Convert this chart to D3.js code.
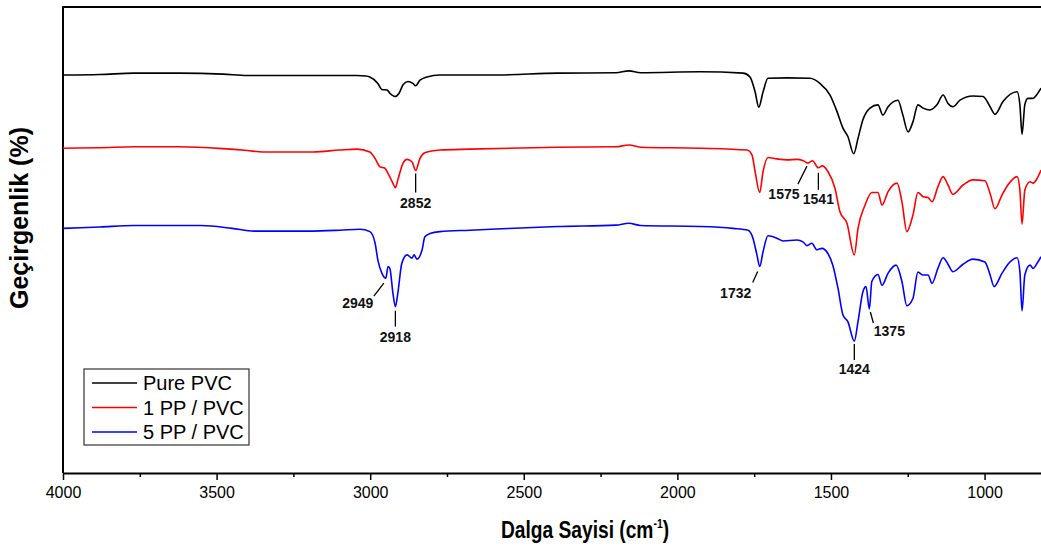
<!DOCTYPE html>
<html lang="tr">
<head>
<meta charset="UTF-8">
<title>FTIR - PVC / PP</title>
<script src="https://d3js.org/d3.v7.min.js"></script>
<style>
  body { margin: 0; background: #fff; font-family: "Liberation Sans", Arial, sans-serif; }
  .spectrum { fill: none; stroke-width: 1.6px; stroke-linejoin: round; }
  .frame { stroke: #000; stroke-width: 2px; fill: none; }
  .leader { stroke: #000; stroke-width: 1.3px; }
  .peak-label { font-size: 14px; font-weight: bold; fill: #111; text-anchor: middle; }
  .axis text { font-size: 16px; fill: #000; font-family: "Liberation Sans", Arial, sans-serif; }
  .axis line { stroke: #000; stroke-width: 1.5px; }
  .axis path { stroke: #000; stroke-width: 2px; }
</style>
</head>
<body>
<svg id="chart" width="1041" height="547"></svg>
<script>
// wavenumber (cm-1) / transmittance pairs, spectra stacked with an offset
const purePVC = [
  [4000, 85.4], [3880, 85.5], [3769, 85.8], [3622, 85.8], [3479, 85.6], [3400, 85.3], [3200, 85.3],
  [3043, 85.3], [3014, 85.2], [3001, 85.0], [2975, 83.6], [2962, 82.3], [2945, 82.2], [2936, 81.5],
  [2919, 80.8], [2906, 81.5], [2893, 83.3], [2877, 84.0], [2861, 83.6], [2852, 83.1], [2838, 84.3],
  [2815, 85.0], [2773, 85.4], [2607, 85.4], [2389, 85.8], [2200, 85.9], [2158, 86.3], [2120, 85.9],
  [1926, 86.1], [1786, 85.8], [1764, 85.0], [1747, 81.8], [1735, 78.5], [1721, 81.8], [1705, 84.7],
  [1643, 84.8], [1568, 84.7], [1536, 83.6], [1503, 81.1], [1480, 77.5], [1461, 74.0], [1445, 72.2],
  [1426, 68.5], [1412, 71.8], [1396, 75.8], [1373, 78.3], [1347, 79.0], [1331, 76.8], [1314, 78.6],
  [1282, 80.0], [1266, 76.8], [1249, 73.2], [1233, 75.4], [1217, 79.0], [1200, 78.3], [1178, 77.9],
  [1155, 79.0], [1135, 81.1], [1119, 79.3], [1103, 78.6], [1080, 80.0], [1038, 80.9], [1005, 80.8],
  [982, 78.6], [966, 77.0], [940, 79.7], [894, 81.8], [885, 79.0], [878, 72.7], [869, 79.0],
  [859, 80.4], [842, 80.4], [829, 81.3], [816, 82.6]
];

const pp1PVC = [
  [4000, 69.7], [3880, 69.8], [3769, 70.0], [3622, 70.0], [3480, 69.6], [3400, 69.2], [3350, 68.9],
  [3186, 68.9], [3100, 69.3], [3043, 69.5], [3001, 68.9], [2984, 67.5], [2968, 65.7], [2952, 65.4],
  [2942, 64.3], [2926, 62.2], [2918, 61.2], [2910, 62.9], [2893, 66.5], [2880, 67.3], [2864, 66.8],
  [2852, 64.9], [2838, 67.5], [2822, 68.7], [2773, 69.3], [2675, 69.5], [2389, 69.9], [2200, 70.0],
  [2158, 70.4], [2120, 69.9], [1926, 69.7], [1773, 69.3], [1757, 68.2], [1747, 64.7], [1732, 60.2],
  [1721, 64.7], [1705, 67.7], [1676, 67.4], [1643, 67.2], [1611, 67.3], [1590, 67.0], [1575, 66.5],
  [1560, 67.0], [1541, 65.5], [1529, 65.9], [1510, 64.7], [1487, 61.1], [1471, 56.1], [1448, 53.6],
  [1424, 46.8], [1412, 52.5], [1389, 57.5], [1367, 60.2], [1347, 60.2], [1334, 57.5], [1314, 60.4],
  [1285, 62.2], [1269, 58.2], [1253, 51.8], [1233, 55.4], [1217, 60.2], [1200, 59.3], [1184, 59.1],
  [1171, 58.2], [1152, 61.4], [1135, 63.6], [1119, 61.8], [1103, 59.8], [1070, 61.8], [1038, 62.9],
  [999, 62.7], [982, 60.0], [966, 56.7], [943, 59.7], [924, 61.8], [894, 63.6], [885, 60.7],
  [878, 53.4], [869, 60.7], [852, 62.5], [842, 62.2], [829, 63.2], [816, 65.0]
];

const pp5PVC = [
  [4000, 52.5], [3880, 52.8], [3769, 53.1], [3551, 53.1], [3450, 52.5], [3378, 51.9], [3200, 51.9],
  [3098, 52.1], [3033, 52.3], [3001, 51.8], [2984, 49.3], [2975, 45.7], [2962, 42.9], [2949, 41.8],
  [2942, 44.3], [2936, 43.9], [2926, 38.6], [2918, 35.7], [2910, 38.6], [2897, 45.0], [2880, 46.8],
  [2864, 46.1], [2857, 46.8], [2848, 45.9], [2831, 47.9], [2822, 50.7], [2805, 51.4], [2773, 51.8],
  [2675, 52.1], [2607, 52.3], [2389, 52.9], [2200, 53.2], [2158, 53.6], [2120, 53.1], [1926, 52.9],
  [1819, 52.5], [1770, 52.1], [1754, 50.4], [1741, 46.8], [1732, 44.3], [1721, 47.5], [1705, 50.9],
  [1676, 50.4], [1656, 49.8], [1611, 50.0], [1591, 49.6], [1578, 48.8], [1562, 49.3], [1546, 47.9],
  [1529, 48.2], [1510, 47.1], [1494, 44.6], [1477, 39.6], [1461, 33.9], [1445, 32.5], [1424, 28.3],
  [1412, 32.5], [1396, 38.9], [1386, 40.0], [1375, 35.2], [1367, 41.1], [1347, 42.6], [1334, 40.3],
  [1314, 42.9], [1288, 44.6], [1269, 41.1], [1253, 35.9], [1233, 37.5], [1217, 43.1], [1200, 42.5],
  [1184, 42.5], [1171, 40.7], [1152, 43.9], [1135, 46.2], [1119, 44.8], [1103, 43.2], [1070, 44.8],
  [1038, 45.9], [999, 45.3], [982, 42.5], [969, 40.0], [943, 42.9], [917, 45.3], [894, 46.2],
  [885, 43.2], [878, 34.8], [869, 42.5], [852, 44.6], [842, 43.9], [829, 45.0], [816, 46.4]
];

const seriesNames = ["Pure PVC", "1 PP / PVC", "5 PP / PVC"];
const seriesColors = ["#000000", "#ff0000", "#0000ff"];
const seriesData = [purePVC, pp1PVC, pp5PVC];

const majorTicks = [4000, 3500, 3000, 2500, 2000, 1500, 1000];
const minorTicks = [3750, 3250, 2750, 2250, 1750, 1250];

// labelled bands: which spectrum and which wavenumber
const peakSeries = [1, 1, 1, 2, 2, 2, 2, 2];
const peakWn = [2852, 1575, 1541, 2949, 2918, 1732, 1424, 1375];

// leader line + label placement relative to the band minimum (px):
// [x1, y1, x2, y2, labelX, labelY]
const peakLayout = [
  [0, 3, 0, 22, 0, 37],
  [-1, 3, -10, 21, -24, 36],
  [0, 5, 0, 22, 0, 36],
  [-2, 5, -12, 18, -28, 30],
  [0, 4, 0, 20, 0, 35],
  [-2, 5, -7, 16, -24, 31],
  [0, 3, 0, 19, 0, 33],
  [1, 3, 4, 14, 20, 27]
];

const svg = d3.select("#chart");
const plot = { left: 63, top: 7, bottom: 473, right: 1046 };

const x = d3.scaleLinear().domain([4000, 800]).range([plot.left, plot.right]);
const y = d3.scaleLinear().domain([0, 100]).range([plot.bottom, plot.top]);

// minor ticks first so the major axis draws on top
svg.append("g")
  .attr("class", "axis")
  .attr("transform", "translate(0," + plot.bottom + ")")
  .call(d3.axisBottom(x).tickValues(minorTicks).tickSize(4).tickSizeOuter(0).tickFormat(""))
  .call(g => g.select(".domain").remove());

svg.append("g")
  .attr("class", "axis")
  .attr("transform", "translate(0," + plot.bottom + ")")
  .call(d3.axisBottom(x).tickValues(majorTicks).tickSize(7).tickSizeOuter(0).tickPadding(7).tickFormat(d3.format("d")));

// left and top border
svg.append("path")
  .attr("class", "frame")
  .attr("d", "M" + plot.left + "," + plot.bottom + "V" + plot.top + "H" + plot.right);

const line = d3.line()
  .x(d => x(d[0]))
  .y(d => y(d[1]))
  .curve(d3.curveMonotoneX);

svg.selectAll(".spectrum")
  .data(seriesData)
  .enter().append("path")
  .attr("class", "spectrum")
  .attr("stroke", (d, i) => seriesColors[i])
  .attr("d", line);

// band annotations
peakWn.forEach(function(wn, i) {
  const s = seriesData[peakSeries[i]];
  const pt = s.find(d => d[0] === wn);
  const px = x(wn), py = y(pt[1]);
  const L = peakLayout[i];
  svg.append("line")
    .attr("class", "leader")
    .attr("x1", px + L[0]).attr("y1", py + L[1])
    .attr("x2", px + L[2]).attr("y2", py + L[3]);
  svg.append("text")
    .attr("class", "peak-label")
    .attr("x", px + L[4]).attr("y", py + L[5])
    .text(wn);
});

// legend
const legend = svg.append("g").attr("transform", "translate(84,369)");
legend.append("rect")
  .attr("width", 165).attr("height", 76)
  .attr("fill", "#fff").attr("stroke", "#333").attr("stroke-width", 1.2);
seriesNames.forEach(function(name, i) {
  const row = legend.append("g").attr("transform", "translate(0," + (14 + i * 24.5) + ")");
  row.append("line")
    .attr("x1", 8).attr("x2", 53)
    .attr("stroke", seriesColors[i]).attr("stroke-width", 1.5);
  row.append("text")
    .attr("x", 59).attr("y", 7)
    .style("font-size", "20px")
    .text(name);
});

// axis titles
svg.append("text")
  .attr("transform", "translate(19,218) rotate(-90)")
  .attr("text-anchor", "middle")
  .attr("dy", "0.35em")
  .style("font-size", "25px")
  .style("font-weight", "bold")
  .text("Geçirgenlik (%)");

const xTitle = svg.append("text")
  .attr("transform", "translate(585,538) scale(0.8,1)")
  .attr("text-anchor", "middle")
  .style("font-size", "24px")
  .style("font-weight", "bold");
xTitle.append("tspan").text("Dalga Sayisi (cm");
xTitle.append("tspan").attr("dy", -10).style("font-size", "13px").text("-1");
xTitle.append("tspan").attr("dy", 10).text(")");
</script>
</body>
</html>
